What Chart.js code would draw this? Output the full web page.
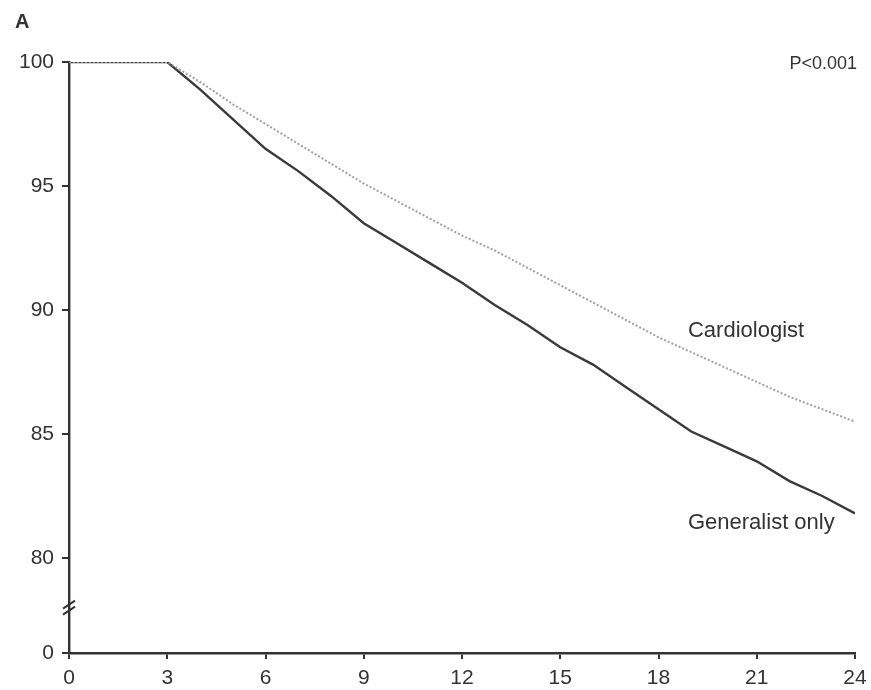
<!DOCTYPE html>
<html>
<head>
<meta charset="utf-8">
<script src="https://cdn.jsdelivr.net/npm/chart.js@4.4.1/dist/chart.umd.min.js"></script>
<style>
  html, body { margin: 0; padding: 0; background: #fff; }
  #wrap { width: 871px; height: 690px; position: relative; }
</style>
</head>
<body>
<div id="wrap"><canvas id="kmChart" width="871" height="690"></canvas></div>
<script>
// months of follow-up
const months = [0, 1, 2, 3, 4, 5, 6, 7, 8, 9, 10, 11, 12, 13, 14, 15, 16, 17, 18, 19, 20, 21, 22, 23, 24];
// survival (%)
const generalist = [100, 100, 100, 100, 98.9, 97.7, 96.5, 95.6, 94.6, 93.5, 92.7, 91.9, 91.1, 90.2, 89.4, 88.5, 87.8, 86.9, 86.0, 85.1, 84.5, 83.9, 83.1, 82.5, 81.8];
const cardiologist = [100, 100, 100, 100, 99.2, 98.3, 97.5, 96.7, 95.9, 95.1, 94.4, 93.7, 93.0, 92.4, 91.7, 91.0, 90.3, 89.6, 88.9, 88.3, 87.7, 87.1, 86.5, 86.0, 85.5];
// y axis is broken: the "0" tick sits just below 80
const yZero = 76.17;
const yTicks = [yZero, 80, 85, 90, 95, 100];
const xTicks = [0, 3, 6, 9, 12, 15, 18, 21, 24];

const fontFam = '"Liberation Sans", Arial, sans-serif';
const ink = '#333';

const extras = {
  id: 'extras',
  afterDraw(chart) {
    const ctx = chart.ctx;
    const x = chart.scales.x, y = chart.scales.y;
    ctx.save();
    // axis break marks
    const ax = chart.chartArea.left;
    const by = y.getPixelForValue(78.0);
    ctx.strokeStyle = ink;
    ctx.lineWidth = 2;
    ctx.beginPath();
    ctx.moveTo(ax - 6, by + 1); ctx.lineTo(ax + 6, by - 7);
    ctx.moveTo(ax - 6, by + 7); ctx.lineTo(ax + 6, by - 1);
    ctx.stroke();
    // labels
    ctx.fillStyle = ink;
    ctx.textBaseline = 'middle';
    ctx.font = '22px ' + fontFam;
    ctx.textAlign = 'left';
    ctx.fillText('Cardiologist', x.getPixelForValue(18.9), y.getPixelForValue(89.15));
    ctx.fillText('Generalist only', x.getPixelForValue(18.9), y.getPixelForValue(81.4));
    ctx.font = '18px ' + fontFam;
    ctx.textAlign = 'right';
    ctx.fillText('P<0.001', 857, 64);
    ctx.font = 'bold 20px ' + fontFam;
    ctx.textAlign = 'left';
    ctx.fillText('A', 15, 22);
    ctx.restore();
  }
};

new Chart(document.getElementById('kmChart').getContext('2d'), {
  type: 'line',
  data: {
    labels: months,
    datasets: [{
      label: 'Cardiologist',
      data: months.map((m, i) => ({ x: m, y: cardiologist[i] })),
      borderColor: '#a0a0a0',
      borderWidth: 2,
      borderDash: [2, 2],
      pointRadius: 0,
      tension: 0
    }, {
      label: 'Generalist only',
      data: months.map((m, i) => ({ x: m, y: generalist[i] })),
      borderColor: '#3a3a3a',
      borderWidth: 2.4,
      pointRadius: 0,
      tension: 0
    }]
  },
  options: {
    responsive: false,
    animation: false,
    devicePixelRatio: 1,
    layout: { padding: { left: 0, right: 16, top: 62, bottom: 0 } },
    plugins: {
      legend: { display: false },
      tooltip: { enabled: false }
    },
    scales: {
      x: {
        type: 'linear',
        min: 0,
        max: 24,
        afterBuildTicks: s => { s.ticks = xTicks.map(v => ({ value: v })); },
        afterFit: s => { s.height = 37; s.paddingLeft = 0; s.paddingRight = 0; },
        grid: { drawOnChartArea: false, drawTicks: true, tickLength: 6, color: ink, lineWidth: 2 },
        border: { display: true, color: ink, width: 2.4 },
        ticks: { color: ink, font: { family: fontFam, size: 21 }, padding: 7, maxRotation: 0 }
      },
      y: {
        min: yZero,
        max: 100,
        afterBuildTicks: s => { s.ticks = yTicks.map(v => ({ value: v })); },
        afterFit: s => { s.width = 69; s.paddingTop = 0; s.paddingBottom = 0; },
        grid: { drawOnChartArea: false, drawTicks: true, tickLength: 7, color: ink, lineWidth: 2 },
        border: { display: true, color: ink, width: 2.4 },
        ticks: {
          color: ink,
          font: { family: fontFam, size: 21 },
          padding: 8,
          callback: v => (v < 77 ? '0' : v)
        }
      }
    }
  },
  plugins: [extras]
});
</script>
</body>
</html>
